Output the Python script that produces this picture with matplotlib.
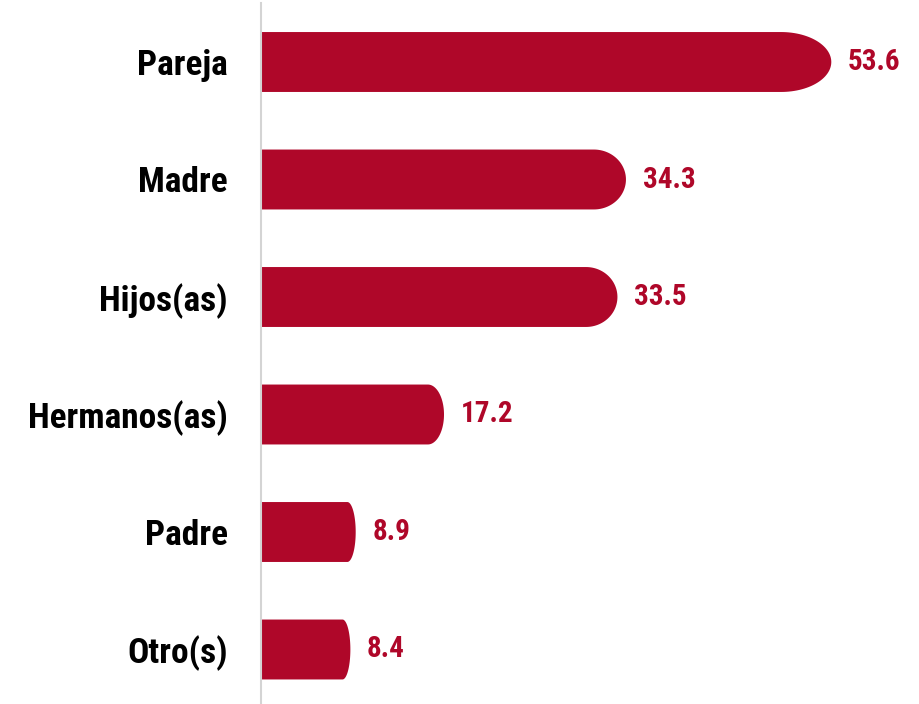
import numpy as np
import matplotlib.pyplot as plt

categories = ['Pareja', 'Madre', 'Hijos(as)', 'Hermanos(as)', 'Padre', 'Otro(s)']
values = [53.6, 34.3, 33.5, 17.2, 8.9, 8.4]

BAR_COLOR = '#AF0729'
FONT = ['Roboto Condensed', 'DejaVu Sans']

fig = plt.figure(figsize=(9.2, 7.04), dpi=100)
ax = fig.add_axes([261 / 920, 0, 1 - 261 / 920, 1])

bar_h = 0.51
for i, v in enumerate(values):
    # bar with an elliptical right end
    rx = 0.088 * v
    t = np.linspace(-np.pi / 2, np.pi / 2, 60)
    xs = np.concatenate([[0], v - rx + rx * np.cos(t), [0]])
    ys = np.concatenate([[i + bar_h / 2], i + bar_h / 2 * np.sin(-t), [i - bar_h / 2]])
    ax.fill(xs, ys, color=BAR_COLOR, lw=0)
    ax.annotate(f'{v:.1f}', xy=(v, i), xytext=(12, 0), textcoords='offset points',
                ha='left', va='center', fontsize=21, fontweight='bold',
                color=BAR_COLOR, family=FONT)

ax.set_xlim(0, 659 / 10.64)
ax.set_ylim(5 + 54.5 / 117.5, -62 / 117.5)
ax.set_yticks(range(len(categories)))
ax.set_yticklabels(categories, fontsize=25.5, fontweight='bold', family=FONT)
ax.tick_params(axis='y', length=0, pad=24)
ax.set_xticks([])
for s in ['top', 'right', 'bottom']:
    ax.spines[s].set_visible(False)
ax.spines['left'].set_color('#d4d4d4')
ax.spines['left'].set_linewidth(1.5)
ax.spines['left'].set_bounds(5 + 54.5 / 117.5, -59 / 117.5)

fig.savefig('out.png', dpi=100)
